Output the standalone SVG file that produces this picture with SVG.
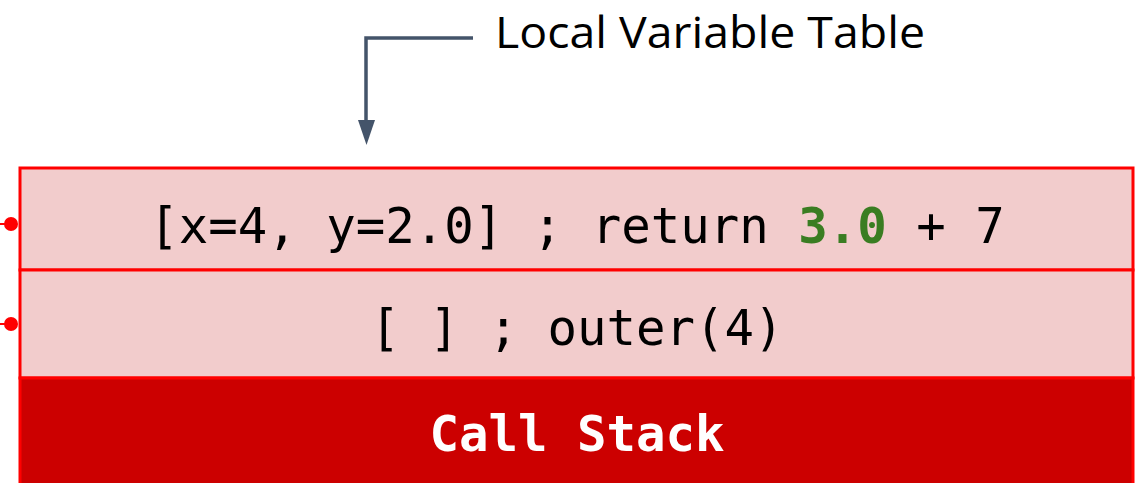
<svg xmlns="http://www.w3.org/2000/svg" width="1141" height="483" viewBox="0 0 1141 483">
<style>
.row{fill:#F2CCCC;stroke:#FF0000;stroke-width:3}
.mono{font-family:"DejaVu Sans Mono","Liberation Mono",monospace;font-size:49px;fill:#000}
.lbl{font-family:"Open Sans","Liberation Sans",sans-serif;font-size:44px;fill:#000}
.conn{fill:none;stroke:#44546A;stroke-width:3.5}
</style>
<rect width="1141" height="483" fill="#fff"/>
<g id="frame1">
<rect class="row" x="20" y="168" width="1113" height="102"/>
<text class="mono" x="577" y="243" text-anchor="middle">[x=4, y=2.0] ; return <tspan font-weight="bold" fill="#3A7D22">3.0</tspan> + 7</text>
</g>
<g id="frame2">
<rect class="row" x="20" y="270" width="1113" height="108"/>
<text class="mono" x="577" y="345" text-anchor="middle">[ ] ; outer(4)</text>
</g>
<g id="callstack">
<rect x="20" y="378" width="1113" height="110" fill="#CC0000" stroke="#FF0000" stroke-width="3"/>
<text class="mono" x="577" y="451" text-anchor="middle" font-weight="bold" style="fill:#fff">Call Stack</text>
</g>
<g id="label">
<text class="lbl" x="495" y="48" textLength="430" lengthAdjust="spacingAndGlyphs">Local Variable Table</text>
</g>
<g id="connectors">
<path class="conn" d="M473,38 H366 V120"/>
<path d="M358,120 L375,120 L366.5,145 z" fill="#44546A"/>
<line x1="0" y1="224" x2="10" y2="224" stroke="#FF0000" stroke-width="2"/>
<circle cx="11" cy="224" r="7" fill="#FF0000"/>
<line x1="0" y1="324" x2="10" y2="324" stroke="#FF0000" stroke-width="2"/>
<circle cx="11" cy="324" r="7" fill="#FF0000"/>
</g>
</svg>
